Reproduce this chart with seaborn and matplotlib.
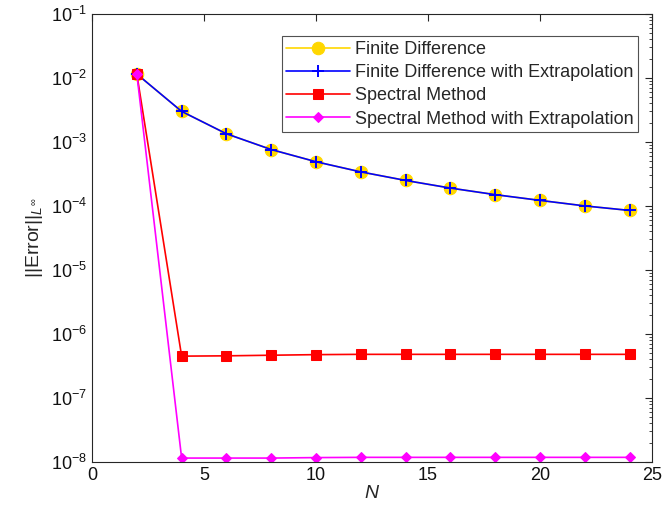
import numpy as np
import pandas as pd
import matplotlib
matplotlib.use("Agg")
import matplotlib.pyplot as plt
import seaborn as sns
from matplotlib.ticker import LogLocator, FixedLocator

# data
N = [2, 4, 6, 8, 10, 12, 14, 16, 18, 20, 22, 24]
fd = [1.15e-2, 3.0e-3, 1.34e-3, 7.6e-4, 4.9e-4, 3.4e-4, 2.5e-4, 1.9e-4, 1.5e-4, 1.22e-4, 1.0e-4, 8.5e-5]
fd_extrap = [1.15e-2, 3.0e-3, 1.34e-3, 7.6e-4, 4.9e-4, 3.4e-4, 2.5e-4, 1.9e-4, 1.5e-4, 1.22e-4, 1.0e-4, 8.5e-5]
spec = [1.15e-2, 4.5e-7, 4.55e-7, 4.65e-7, 4.75e-7, 4.8e-7, 4.8e-7, 4.8e-7, 4.8e-7, 4.8e-7, 4.8e-7, 4.8e-7]
spec_extrap = [1.15e-2, 1.15e-8, 1.15e-8, 1.15e-8, 1.17e-8, 1.18e-8, 1.18e-8, 1.18e-8, 1.18e-8, 1.18e-8, 1.18e-8, 1.18e-8]

labels = ["Finite Difference", "Finite Difference with Extrapolation",
          "Spectral Method", "Spectral Method with Extrapolation"]

sns.set_style("white")
plt.rcParams['font.family'] = ['Liberation Sans', 'DejaVu Sans']
plt.rcParams['mathtext.fontset'] = 'custom'
plt.rcParams['mathtext.rm'] = 'Liberation Sans'
plt.rcParams['mathtext.it'] = 'Liberation Sans:italic'

fig = plt.figure(figsize=(6.62, 5.15), dpi=100)
ax = fig.add_axes([0.139, 0.103, 0.846, 0.870])

sns.lineplot(x=N, y=fd, ax=ax, color='#FFD700', marker='o', markersize=9,
             markeredgecolor='#FFD700', lw=1.2, label=labels[0])
sns.lineplot(x=N, y=fd_extrap, ax=ax, color='#0000FF', marker='+', markersize=9,
             markeredgecolor='#0000FF', markeredgewidth=1.4, lw=1.2, label=labels[1])
sns.lineplot(x=N, y=spec, ax=ax, color='#FF0000', marker='s', markersize=7,
             markeredgecolor='#FF0000', lw=1.2, label=labels[2])
sns.lineplot(x=N, y=spec_extrap, ax=ax, color='#FF00FF', marker='D', markersize=5.5,
             markeredgecolor='#FF00FF', lw=1.2, label=labels[3])

ax.set_yscale('log')
ax.set_xlim(0, 25)
ax.set_ylim(1e-8, 1e-1)
ax.set_xticks([0, 5, 10, 15, 20, 25])
ax.xaxis.set_minor_locator(FixedLocator([]))
ax.yaxis.set_minor_locator(LogLocator(base=10, subs=np.arange(2, 10), numticks=20))
ax.set_yticks([10.0**k for k in range(-8, 0)])
ax.set_yticklabels([f"10$^{{{k}}}$" for k in range(-8, 0)])

ax.tick_params(axis='both', which='both', direction='in', top=True, right=True,
               labelsize=13, color='#262626', labelcolor='#111111')
ax.tick_params(which='major', length=5, width=0.8)
ax.tick_params(which='minor', length=2.5, width=0.6)
for s in ax.spines.values():
    s.set_color('#262626')
    s.set_linewidth(0.8)

ax.set_xlabel('$\\it{N}$', fontsize=14, labelpad=1)
ax.set_ylabel('||Error||$_{\\it{L}^{\\infty}}$', fontsize=14, labelpad=4)

leg = ax.legend(loc='upper right', bbox_to_anchor=(0.975, 0.95), fontsize=13,
                frameon=True, fancybox=False, edgecolor='#262626',
                handlelength=3.5, borderpad=0.25, labelspacing=0.35, handletextpad=0.3,
                borderaxespad=0.0)
leg.get_frame().set_linewidth(0.8)

fig.savefig('out.png', dpi=100)
